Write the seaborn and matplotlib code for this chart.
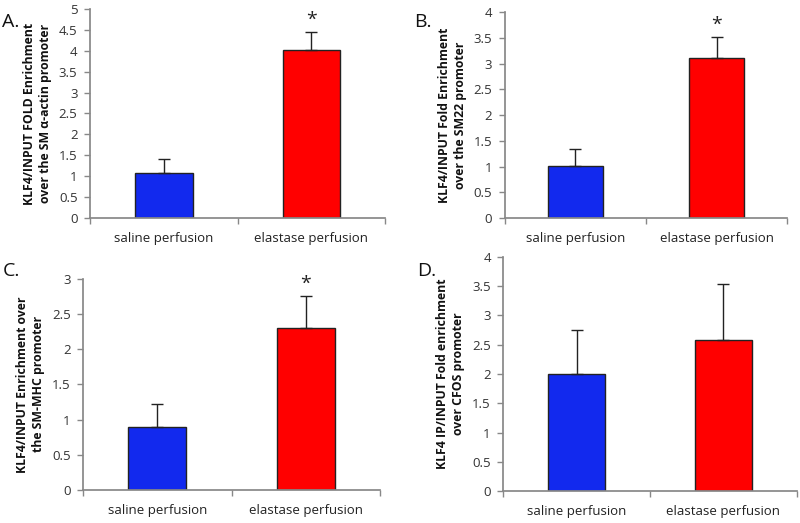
import pandas as pd
import numpy as np
import seaborn as sns
import matplotlib
import matplotlib.pyplot as plt
from matplotlib.ticker import MultipleLocator, FixedLocator

matplotlib.use('Agg')

conditions = ["saline perfusion", "elastase perfusion"]
bar_colors = ["#1229ee", "#ff0000"]

# mean values and upper error (SEM) per panel
means_a = [1.07, 4.02]
errs_a = [0.35, 0.43]
means_b = [1.02, 3.10]
errs_b = [0.33, 0.42]
means_c = [0.90, 2.30]
errs_c = [0.32, 0.45]
means_d = [2.00, 2.58]
errs_d = [0.75, 0.95]

panel_letters = ["A.", "B.", "C.", "D."]
ylabels = [
    "KLF4/INPUT FOLD Enrichment\nover the SM \u03b1-actin promoter",
    "KLF4/INPUT Fold Enrichment\nover the SM22 promoter",
    "KLF4/INPUT Enrichment over\nthe SM-MHC promoter",
    "KLF4 IP/INPUT Fold enrichment\nover CFOS promoter",
]
ymaxes = [5, 4, 3, 4]
ysteps = [0.5, 0.5, 0.5, 0.5]
significant = [True, True, True, False]

sns.set_theme(style="white")
plt.rcParams['font.family'] = ['Open Sans', 'DejaVu Sans']

fig = plt.figure(figsize=(8, 5.23), dpi=100)

#axes rectangles
rects = [
    [0.1125, 0.583, 0.369, 0.400],
    [0.631, 0.583, 0.353, 0.394],
    [0.104, 0.063, 0.371, 0.404],
    [0.629, 0.061, 0.367, 0.448],
]
letter_pos = [(0.002, 0.975), (0.518, 0.975), (0.004, 0.5), (0.522, 0.5)]

all_means = [means_a, means_b, means_c, means_d]
all_errs = [errs_a, errs_b, errs_c, errs_d]

for i in range(4):
    ax = fig.add_axes(rects[i])
    df = pd.DataFrame({"condition": conditions, "value": all_means[i]})
    sns.barplot(data=df, x="condition", y="value", hue="condition",
                palette=bar_colors, saturation=1, width=0.39,
                edgecolor="#222222", linewidth=1.0, legend=False, ax=ax,
                errorbar=None)
    lower = np.zeros(2)
    ax.errorbar([0, 1], all_means[i], yerr=[lower, all_errs[i]], fmt='none',
                ecolor="#222222", elinewidth=1.0, capsize=4, capthick=1.0)
    if significant[i]:
        ax.text(1, all_means[i][1] + all_errs[i][1] + ymaxes[i] * 0.015, "*",
                ha='center', va='bottom', fontsize=14, color="#222222")

    ax.set_xlim(-0.5, 1.5)
    ax.set_ylim(0, ymaxes[i])
    ax.yaxis.set_major_locator(MultipleLocator(ysteps[i]))
    ax.set_yticklabels([f"{v:g}" for v in ax.get_yticks()])
    ax.xaxis.set_minor_locator(FixedLocator([-0.5, 0.5, 1.5]))
    ax.tick_params(axis='x', which='major', length=0, labelsize=9.5,
                   colors="#222222", pad=10)
    ax.tick_params(axis='x', which='minor', length=4, width=1, color="#888888",
                   direction='out', bottom=True)
    ax.tick_params(axis='y', length=4, width=1, color="#888888",
                   direction='out', left=True, labelsize=9.5, labelcolor="#333333",
                   pad=5)
    ax.set_xlabel("")
    ax.set_ylabel(ylabels[i], fontsize=8.8, fontweight='bold', color="#111111",
                  labelpad=5, linespacing=1.3)
    sns.despine(ax=ax)
    ax.spines['left'].set_color("#888888")
    ax.spines['bottom'].set_color("#888888")

    fig.text(letter_pos[i][0], letter_pos[i][1], panel_letters[i],
             fontsize=14, color="#111111", va='top', ha='left')

fig.savefig("out.png", dpi=100)
